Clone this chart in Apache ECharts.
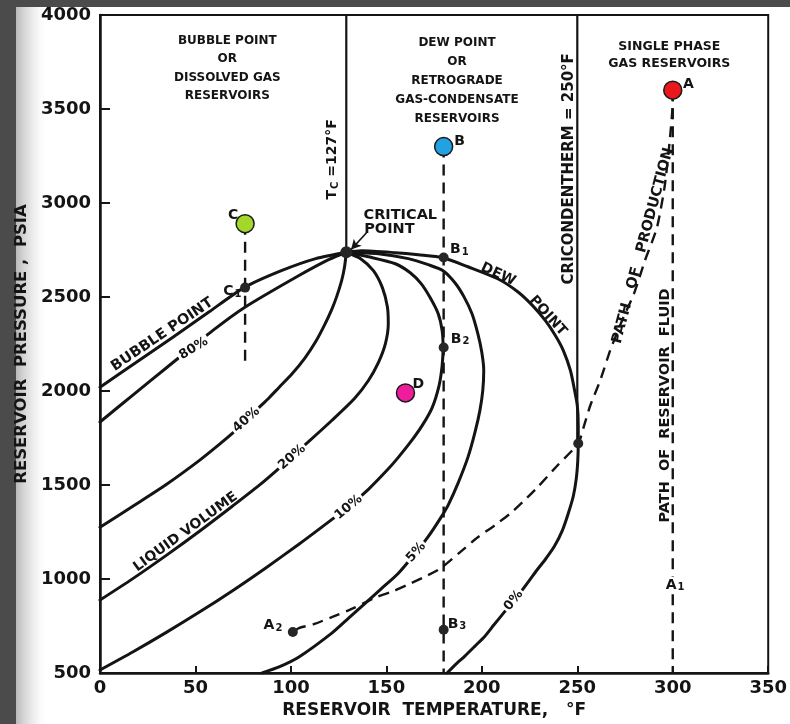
<!DOCTYPE html>
<html>
<head>
<meta charset="utf-8">
<script src="https://cdn.jsdelivr.net/npm/echarts@6/dist/echarts.min.js"></script>
<style>
html,body{margin:0;padding:0;width:790px;height:724px;overflow:hidden;background:#4b4b4b;}
#paper{position:absolute;left:16px;top:7px;width:774px;height:717px;
  background:linear-gradient(to right,#b9b9b9 0px,#d6d6d6 8px,#ececec 17px,#fafafa 24px,#ffffff 30px);}
#chart{position:absolute;left:0;top:0;width:790px;height:724px;}
</style>
</head>
<body>
<div id="paper"></div>
<div id="chart"></div>
<script>
// ---------- axis ticks ----------
const temperatureTicks = [0, 50, 100, 150, 200, 250, 300, 350];
const pressureTicks = [500, 1000, 1500, 2000, 2500, 3000, 3500, 4000];

// ---------- phase envelope & quality lines [T °F, P psia] ----------
const bubblePointCurve = [[0,2020],[20,2160],[38,2284],[57,2420],[75.5,2550],[95,2640],[113,2704],[129,2738]];
const dewPointCurve = [[129,2738],[137,2746],[154.7,2736],[166.7,2725],[179.7,2709],[192.7,2661],[208.3,2597],
  [218.8,2528],[226.6,2454],[233.3,2374],[238.5,2295],[242.7,2215],[246.4,2109],[248.4,2013],[250,1923],
  [250.5,1817],[250.5,1721],[250.26,1631],[249.48,1535],[247.9,1440],[245.3,1350],[242.2,1259],[238,1174],
  [233.3,1105],[229.2,1052],[225,994],[220.3,930],[215.6,872],[210.9,813],[206.25,755],[201.6,696],
  [196.4,643],[191.1,590],[185.9,542],[181.8,500]];
const liquid80 = [[0,1835],[18,1985],[35,2125],[59,2321],[75.5,2443],[104,2613],[120,2700],[129,2738]];
const liquid40 = [[0,1275],[17.2,1387],[34.9,1504],[52.1,1631],[62.5,1716],[69.3,1774],[76.6,1843],[82.3,1902],
  [88.5,1963],[93.75,2019],[100.5,2090],[107.3,2175],[113,2263],[117.7,2353],[121.35,2433],[123.96,2502],
  [126.56,2587],[128.1,2661],[129,2738]];
const liquid20 = [[0,888],[17.2,1002],[34.9,1127],[52.1,1254],[69.3,1387],[83.3,1498],[93.75,1589],[100.5,1652],
  [109.4,1732],[121.4,1843],[133.3,1960],[140.6,2056],[145.8,2151],[149.5,2252],[151,2359],[150.5,2449],
  [147.9,2550],[143.2,2640],[136.5,2704],[129,2738]];
const liquid10 = [[0,516],[17.36,613],[34.74,716],[52.08,824],[69.43,938],[86.82,1059],[104.17,1185],
  [116.15,1276],[130.2,1385],[140.6,1477],[151.04,1586],[156.25,1647],[163,1733],[168.8,1817],[174,1912],
  [177.6,2029],[179.2,2135],[179.7,2231],[179.2,2321],[177.1,2412],[172.9,2497],[168.2,2571],[162.5,2629],
  [154.7,2677],[140.6,2714],[129,2738]];
const liquid5 = [[84.9,500],[93.8,532],[104.2,585],[121.4,712],[130.2,792],[139,872],[147.4,949],[156.3,1031],
  [165.6,1143],[171.9,1225],[178.6,1328],[182.3,1392],[187.5,1509],[192.7,1647],[196.4,1780],[199,1897],
  [200.5,2003],[201,2109],[200,2205],[197.9,2305],[194.8,2412],[190.6,2502],[185.9,2576],[179.7,2640],
  [171.9,2672],[161.5,2704],[145.8,2730],[129,2738]];

// ---------- reference lines ----------
const tcLine = [[129,4000],[129,2738]];
const cricondenthermLine = [[250,4000],[250,1725]];
const pathB = [[180,3300],[180,500]];
const pathC = [[76,2890],[76,2135]];
const pathA = [[300,3600],[300,500]];
const productionPath = [[300,3600],[300,3543],[298.4,3330],[295.8,3091],[291.7,2868],[285.4,2693],[279.7,2518],
  [273.4,2374],[267.2,2215],[262,2056],[256.8,1923],[253.6,1817],[250.5,1721],[239.6,1604],[229.2,1488],
  [222.4,1419],[215.1,1350],[206.8,1286],[197.9,1222],[188.5,1142],[178.6,1058],[170.8,1015],[163,978],
  [153.6,935],[144.8,904],[132.8,845],[121.4,797],[112,760],[104.2,739],[101,718]];

// ---------- points ----------
const reservoirPoints = [['A',300,3600],['B',180,3300],['C',76,2890],['D',160,1990]];
const statePoints = [['B1',180,2710],['B2',180,2231],['B3',180,730],['C1',76,2550],['A2',101,718],['Cricondentherm',250.5,1721]];
const criticalPoint = [[129,2738]];

// ---------- styles ----------
const INK = '#141414';
const FONT = '"DejaVu Sans","Liberation Sans",sans-serif';
const pointColors = {A:'#e8181c', B:'#22a2e0', C:'#a3d82a', D:'#f01c9e'};

// annotations: text, anchor in data coords, rotation, size
const annotations = [
  {text:'BUBBLE POINT\nOR\nDISSOLVED GAS\nRESERVOIRS', t:66.7, p:3715, size:12, lh:18.5},
  {text:'DEW POINT\nOR\nRETROGRADE\nGAS-CONDENSATE\nRESERVOIRS', t:187, p:3649, size:12, lh:19},
  {text:'SINGLE PHASE\nGAS RESERVOIRS', t:298.2, p:3784, size:12.5, lh:17},
  {rich:'{m|T}{s|C}{m| =127°F}', t:121.9, p:3232, rot:90, size:14},
  {text:'CRICONDENTHERM = 250°F', t:245.6, p:3182, rot:90, size:15},
  {text:'CRITICAL', t:157.3, p:2937, size:14.5},
  {text:'POINT', t:151.6, p:2858, size:14.5},
  {text:'DEW', t:208.6, p:2620, rot:-25, size:14},
  {text:'POINT', t:234.6, p:2400, rot:-48, size:14},
  {text:'BUBBLE POINT', t:32.6, p:2300, rot:34, size:14.5},
  {text:'LIQUID VOLUME', t:44.8, p:1250, rot:36, size:14},
  {text:'80%', t:49, p:2226, rot:31, size:13, bg:true},
  {text:'40%', t:76.6, p:1846, rot:42, size:13, bg:true},
  {text:'20%', t:100.6, p:1648, rot:41, size:13, bg:true},
  {text:'10%', t:130.2, p:1382, rot:40, size:13, bg:true},
  {text:'5%', t:165.6, p:1142, rot:48, size:13, bg:true},
  {text:'0%', t:216.6, p:886, rot:51, size:13, bg:true},
  {text:'A', t:308.2, p:3631, size:14},
  {text:'B', t:188.4, p:3330, size:14},
  {text:'C', t:69.8, p:2932, size:14},
  {text:'D', t:166.7, p:2035, size:14},
  {rich:'{m|B}{s|1}', t:188.2, p:2752, size:14},
  {rich:'{m|B}{s|2}', t:188.6, p:2277, size:14},
  {rich:'{m|B}{s|3}', t:187, p:760, size:14},
  {rich:'{m|A}{s|1}', t:301.2, p:967, size:14, bg:true},
  {rich:'{m|A}{s|2}', t:90.6, p:751, size:14},
  {rich:'{m|C}{s|1}', t:69.3, p:2528, size:14},
  {text:'PATH   OF   PRODUCTION', t:284.4, p:2773, rot:75, size:14.5},
  {text:'PATH  OF  RESERVOIR  FLUID', t:295.8, p:1923, rot:90, size:14.5}
];

function curve(data, extra) {
  return Object.assign({
    type:'line', data:data, symbol:'none', showSymbol:false, smooth:0.25, silent:true, z:3,
    lineStyle:{color:INK, width:3, cap:'round', join:'round'}
  }, extra || {});
}
function straight(data, dashed, width) {
  return {
    type:'line', data:data, symbol:'none', showSymbol:false, smooth:false, silent:true, z:2,
    lineStyle:{color:INK, width:width || 2.4, type: dashed ? [11,7] : 'solid', cap:'butt'}
  };
}

const annotationData = annotations.map(a => {
  const label = {
    show:true, position:'inside', color:INK, opacity:1, fontFamily:FONT, fontWeight:'bold',
    fontSize:a.size, rotate:a.rot || 0, align:'center', verticalAlign:'middle'
  };
  if (a.rich) {
    label.formatter = a.rich;
    label.rich = {
      m:{fontSize:a.size, fontWeight:'bold', fontFamily:FONT, color:INK},
      s:{fontSize:Math.round(a.size*0.68), fontWeight:'bold', fontFamily:FONT, color:INK, verticalAlign:'bottom', padding:[5,0,0,1]}
    };
  } else {
    label.formatter = a.text;
  }
  if (a.lh) label.lineHeight = a.lh;
  if (a.bg) { label.backgroundColor = '#ffffff'; label.padding = [1,2]; }
  return {value:[a.t, a.p], label:label};
});

const chart = echarts.init(document.getElementById('chart'), null, {renderer:'canvas'});
chart.setOption({
  animation:false,
  backgroundColor:'transparent',
  grid:{left:100, right:18, top:15, bottom:51, show:true, borderColor:INK, borderWidth:2, backgroundColor:'transparent'},
  xAxis:{
    type:'value', min:temperatureTicks[0], max:temperatureTicks[temperatureTicks.length-1],
    interval:temperatureTicks[1]-temperatureTicks[0],
    axisLine:{show:true, onZero:false, lineStyle:{color:INK, width:2.5}},
    axisTick:{show:true, inside:true, length:7, lineStyle:{color:INK, width:2}},
    splitLine:{show:false},
    axisLabel:{color:INK, fontSize:18, fontWeight:'bold', fontFamily:FONT, margin:6, formatter:v => String(v)},
    name:'RESERVOIR  TEMPERATURE,   °F', nameLocation:'middle', nameGap:29,
    nameTextStyle:{color:INK, fontSize:17, fontWeight:'bold', fontFamily:FONT}
  },
  yAxis:{
    type:'value', min:pressureTicks[0], max:pressureTicks[pressureTicks.length-1],
    interval:pressureTicks[1]-pressureTicks[0],
    axisLine:{show:true, onZero:false, lineStyle:{color:INK, width:2.5}},
    axisTick:{show:true, inside:true, length:10, lineStyle:{color:INK, width:2}},
    splitLine:{show:false},
    axisLabel:{color:INK, fontSize:18, fontWeight:'bold', fontFamily:FONT, margin:9, formatter:v => String(v)},
    name:'RESERVOIR  PRESSURE ,  PSIA', nameLocation:'middle', nameGap:54,
    nameTextStyle:{color:INK, fontSize:16.5, fontWeight:'bold', fontFamily:FONT}
  },
  series:[
    straight(tcLine, false, 2.2),
    straight(cricondenthermLine, false, 2.2),
    straight(pathB, true, 2.4),
    straight(pathC, true, 2.4),
    straight(pathA, true, 2.4),
    Object.assign(curve(productionPath, {smooth:0.2, z:2}), {lineStyle:{color:INK, width:2.4, type:[11,7]}}),
    curve(bubblePointCurve),
    curve(dewPointCurve),
    curve(liquid80),
    curve(liquid40),
    curve(liquid20),
    curve(liquid10),
    curve(liquid5),
    {
      type:'line', data:[], silent:true,
      markLine:{silent:true, symbol:['none','arrow'], symbolSize:[8,10], label:{show:false},
        lineStyle:{color:INK, width:1.6, type:'solid'},
        data:[[{coord:[139.6,2842]},{coord:[131.5,2752]}]]}
    },
    {
      type:'scatter', z:6, silent:true, symbol:'circle', symbolSize:12,
      itemStyle:{color:'#262626', opacity:1}, data:criticalPoint
    },
    {
      type:'scatter', z:6, silent:true, symbol:'circle', symbolSize:10,
      itemStyle:{color:'#262626', opacity:1}, data:statePoints.map(d => [d[1], d[2]])
    },
    {
      type:'scatter', z:7, silent:true, symbol:'circle', symbolSize:18,
      data:reservoirPoints.map(d => ({value:[d[1], d[2]], itemStyle:{color:pointColors[d[0]], borderColor:'#1a1a1a', borderWidth:1.5, opacity:1}}))
    },
    {
      type:'scatter', z:10, silent:true, symbolSize:1, itemStyle:{color:'rgba(0,0,0,0)', opacity:1},
      data:annotationData
    }
  ]
});
</script>
</body>
</html>
